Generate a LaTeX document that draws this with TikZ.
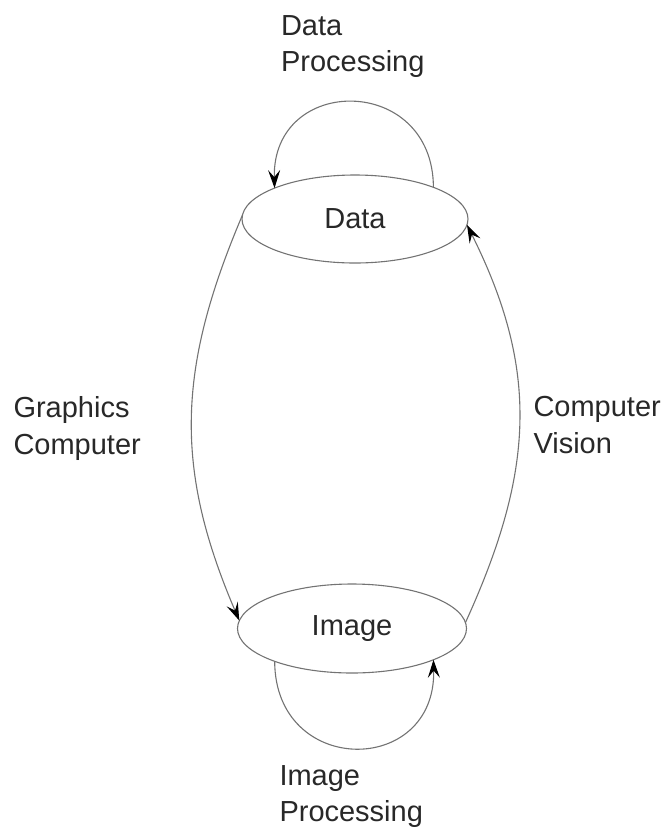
\documentclass[tikz,border=0pt]{standalone}
\usepackage{fontspec}
\setmainfont{Liberation Sans}
\usetikzlibrary{shapes.geometric,arrows.meta}
\definecolor{edgegray}{RGB}{115,115,115}
\definecolor{inkgray}{RGB}{40,40,40}
\begin{document}
\begin{tikzpicture}[x=1pt,y=-1pt,
  state/.style={ellipse, draw=edgegray, line width=1.1pt, inner sep=0pt, outer sep=0pt,
    text=inkgray, font=\fontsize{29}{36.5}\selectfont},
  lbl/.style={anchor=base west, inner sep=0pt, outer sep=0pt, text width=170pt, align=left,
    text=inkgray, font=\fontsize{29}{36.5}\selectfont},
  flow/.style={draw=edgegray, line width=1.1pt,
    -{Stealth[length=18pt,width=12pt,inset=7pt,black]}}]
  \useasboundingbox (0,0) rectangle (666,828);

  % the two states
  \node[state, minimum width=226pt, minimum height=88pt] (data) at (355,219) {Data};
  \node[state, minimum width=229pt, minimum height=89pt] (image) at (352,628.5) {Image};

  % transitions
  \draw[flow] (data.22) .. controls (433,74) and (272,74) .. (data.159);
  \draw[flow] (image.203) .. controls (275,777) and (436,777) .. (image.339);
  \draw[flow] (data.178) .. controls (177,369) and (174,468) .. (image.176);
  \draw[flow] (image.3) .. controls (534,472) and (540,371) .. (data.357);

  % transition labels
  \node[lbl] (lbldp) at (281,35) {Data\\Processing};
  \node[lbl] (lblgc) at (13.5,417.5) {Graphics\\Computer};
  \node[lbl] (lblcv) at (533.5,416.7) {Computer\\Vision};
  \node[lbl] (lblip) at (279.5,785) {Image\\Processing};
\end{tikzpicture}
\end{document}
